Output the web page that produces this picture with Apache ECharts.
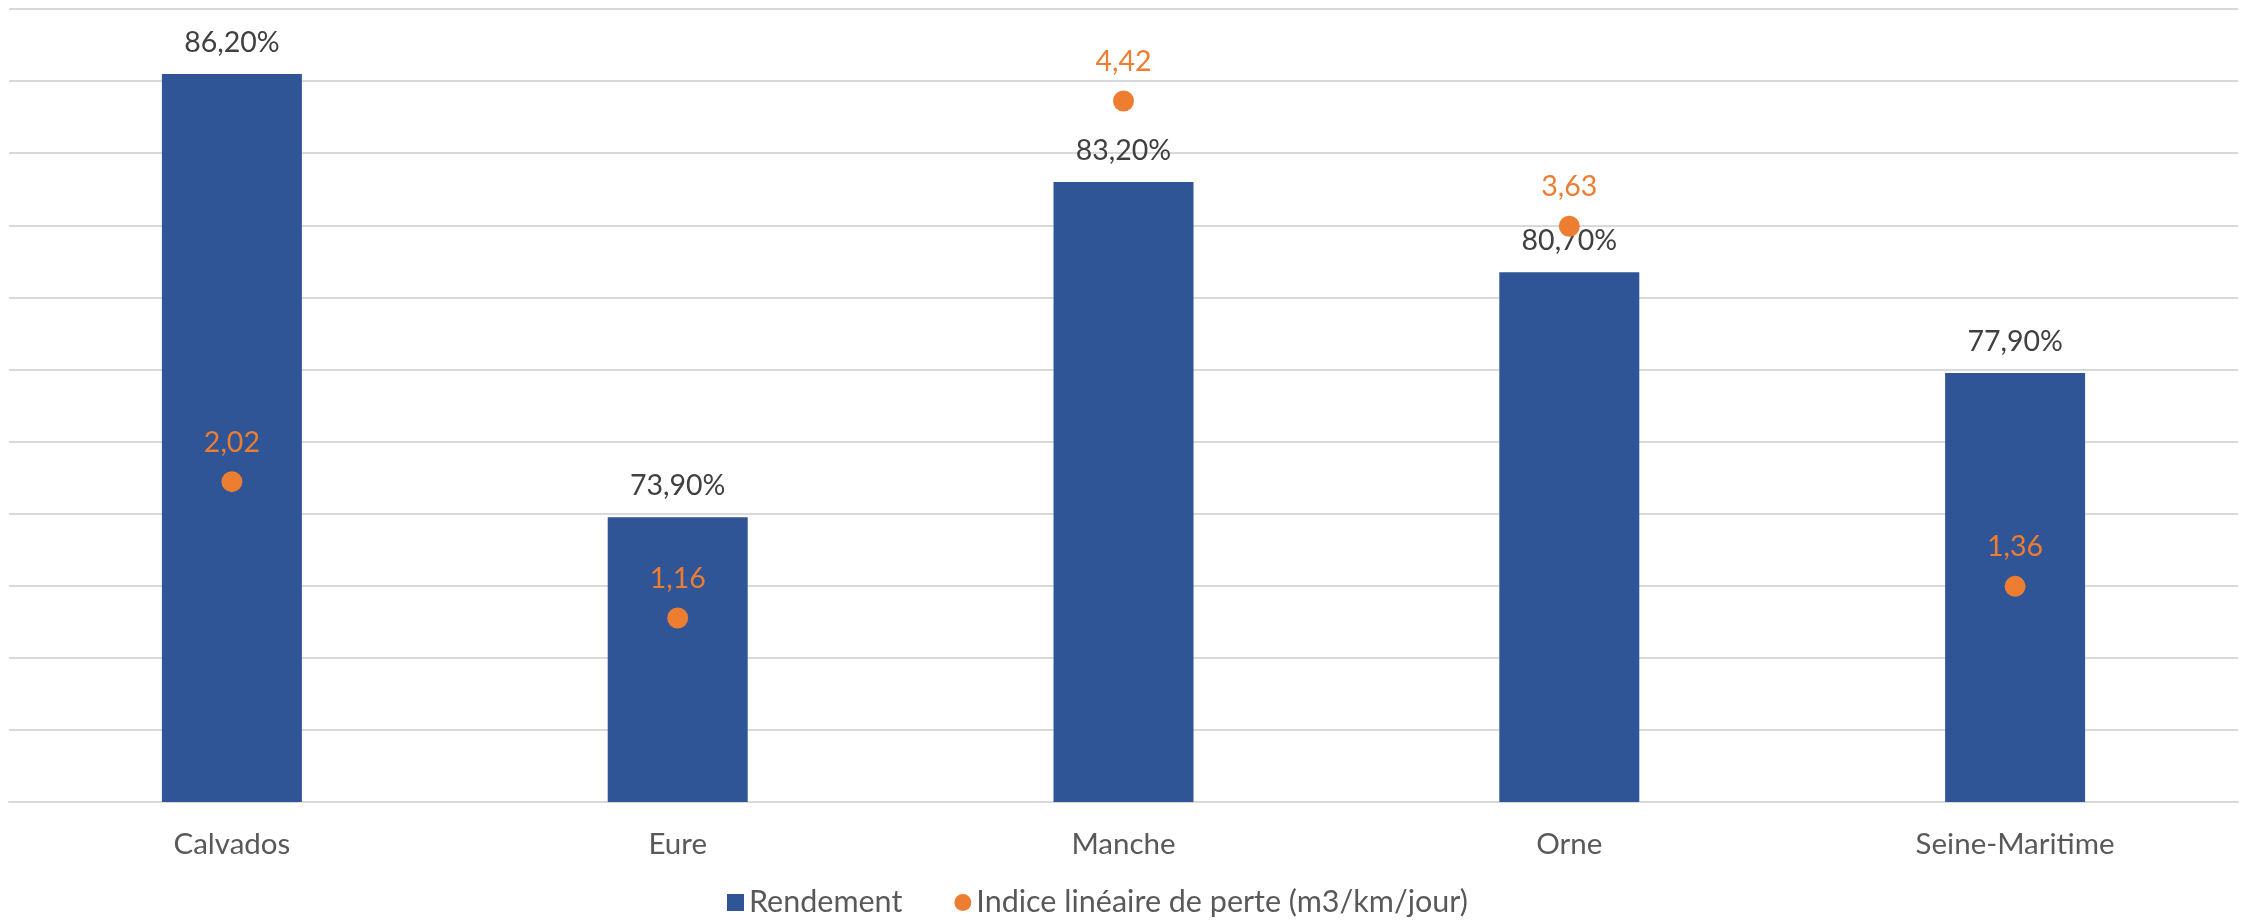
<!DOCTYPE html>
<html>
<head>
<meta charset="utf-8">
<script src="https://cdn.jsdelivr.net/npm/echarts@6/dist/echarts.min.js"></script>
<style>html,body{margin:0;padding:0;background:#fff;}#c{width:2246px;height:923px;}</style>
</head>
<body>
<div id="c"></div>
<script>
var categories = ['Calvados', 'Eure', 'Manche', 'Orne', 'Seine-Maritime'];
var rendement = [86.2, 73.9, 83.2, 80.7, 77.9];
var indice = [2.02, 1.16, 4.42, 3.63, 1.36];
var seriesNames = ['Rendement', 'Indice linéaire de perte (m3/km/jour)'];

var FONT = 'Lato';
var chart = echarts.init(document.getElementById('c'));
chart.setOption({
  animation: false,
  textStyle: { fontFamily: FONT },
  grid: { left: 9, right: 8, top: 9, bottom: 121, containLabel: false },
  legend: {
    bottom: 0,
    left: 722,
    itemWidth: 17,
    itemHeight: 17,
    itemGap: 52,
    itemTextGap: 13,
    textStyle: { fontFamily: FONT, fontSize: 30.5, color: '#595959' },
    data: [
      { name: seriesNames[0], icon: 'rect' },
      { name: seriesNames[1], icon: 'circle' }
    ]
  },
  xAxis: {
    type: 'category',
    data: categories,
    axisLine: { show: true, lineStyle: { color: '#d9d9d9', width: 2 } },
    axisTick: { show: false },
    axisLabel: { color: '#595959', fontSize: 29.5, fontFamily: FONT, margin: 27 }
  },
  yAxis: [
    {
      type: 'value', min: 66, max: 88, interval: 2,
      axisLabel: { show: false }, axisLine: { show: false }, axisTick: { show: false },
      splitLine: { lineStyle: { color: '#d9d9d9', width: 2 } }
    },
    {
      type: 'value', min: 0, max: 5,
      axisLabel: { show: false }, axisLine: { show: false }, axisTick: { show: false },
      splitLine: { show: false }
    }
  ],
  series: [
    {
      name: seriesNames[0],
      type: 'bar',
      data: rendement,
      barWidth: '31.4%',
      itemStyle: { color: '#2F5597' },
      label: {
        show: true, position: 'top', distance: 17,
        color: '#404040', fontSize: 28.5, fontFamily: FONT,
        formatter: function (p) { return p.value.toFixed(2).replace('.', ',') + '%'; }
      }
    },
    {
      name: seriesNames[1],
      type: 'scatter',
      yAxisIndex: 1,
      data: indice,
      symbol: 'circle',
      symbolSize: 21,
      itemStyle: { color: '#ED7D31', opacity: 1 },
      label: {
        show: true, position: 'top', distance: 14, opacity: 1,
        color: '#ED7D31', fontSize: 28.5, fontFamily: FONT,
        formatter: function (p) { return p.value.toFixed(2).replace('.', ','); }
      },
      z: 5
    }
  ]
});
</script>
</body>
</html>
